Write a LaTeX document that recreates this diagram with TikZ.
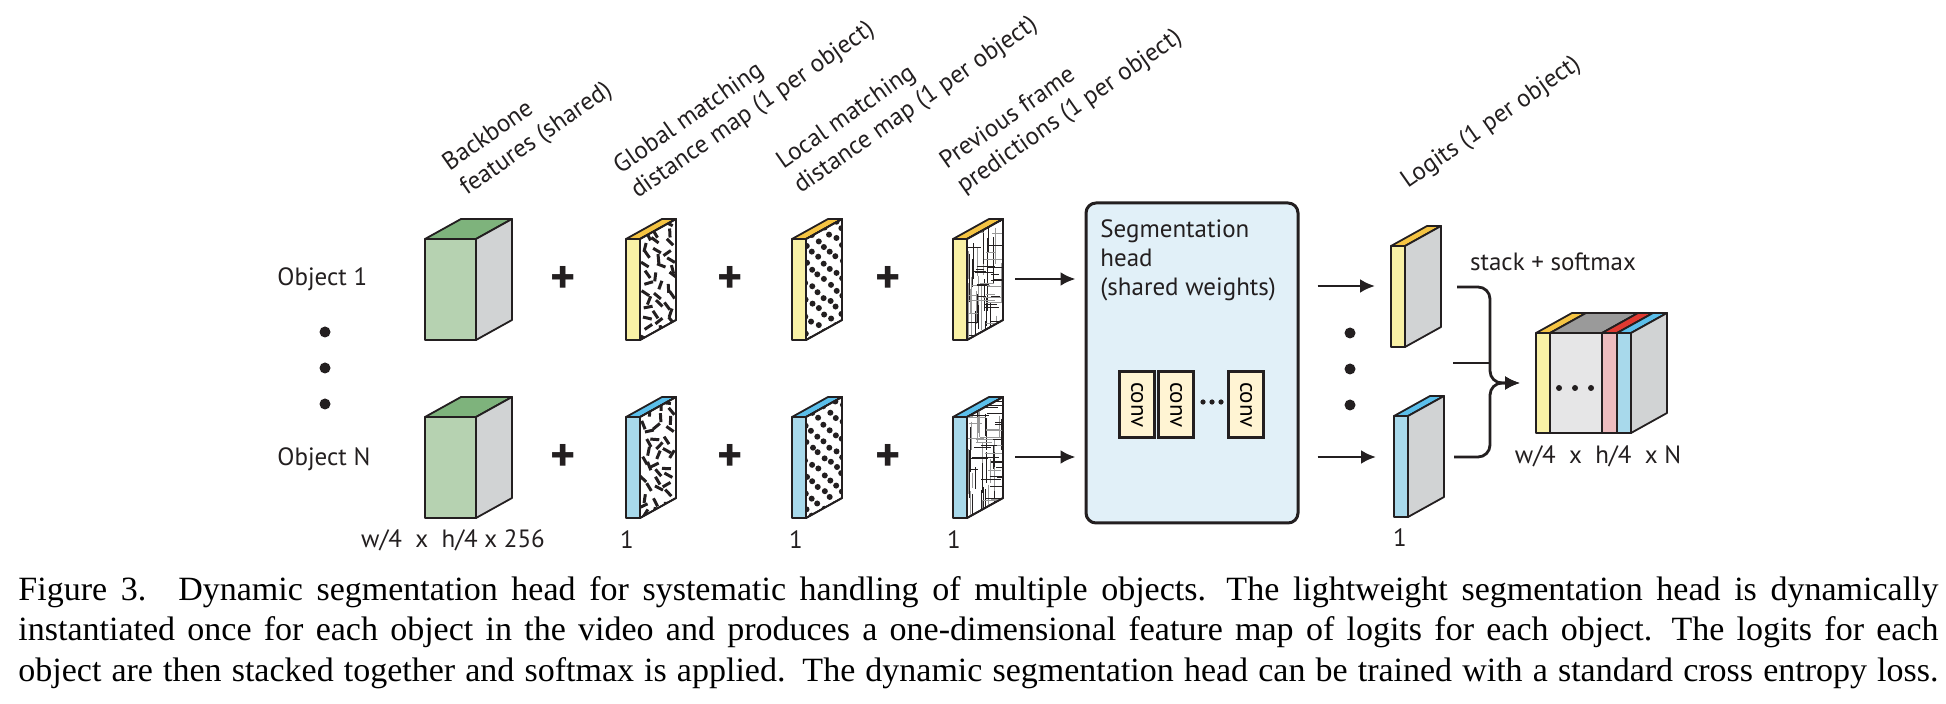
\documentclass[tikz,border=0pt]{standalone}
\usepackage{fontspec}
\setmainfont{Liberation Serif}
\newfontfamily\labelfont{PT Sans}
\usepackage{tikz}
\usetikzlibrary{arrows.meta,calc,positioning}

\definecolor{edgec}{HTML}{231F20}
\definecolor{bbfront}{HTML}{B6D2B1}
\definecolor{bbtop}{HTML}{7EB37C}
\definecolor{sidegray}{HTML}{D1D3D4}
\definecolor{ylwfront}{HTML}{F9F1A6}
\definecolor{ylwtop}{HTML}{F5C443}
\definecolor{bluefront}{HTML}{A8D9EB}
\definecolor{bluetop}{HTML}{5BBFEB}
\definecolor{headfill}{HTML}{E1F0F8}
\definecolor{convfill}{HTML}{FFF4D3}
\definecolor{stackgray}{HTML}{E6E6E7}
\definecolor{stacktop}{HTML}{9A9A9A}
\definecolor{pinkfront}{HTML}{EDBCBF}
\definecolor{redtop}{HTML}{E03A31}

\tikzset{%
	outl/.style     = {draw=edgec, line width=0.9pt, line join=round},
	arrow/.style    = {draw=edgec, line width=1.4pt, -{Latex[length=7.5pt,width=7pt]}},
	lbl/.style      = {font=\labelfont\fontsize{12.5}{15}\selectfont, text=edgec, inner sep=0pt},
	toplbl/.style   = {lbl, rotate=35, anchor=south west, align=left},
	plus/.style     = {font=\labelfont\bfseries\fontsize{24}{24}\selectfont, text=edgec, inner sep=0pt},
	headbox/.style  = {draw=edgec, fill=headfill, line width=1.5pt, rounded corners=5pt, minimum width=106pt, minimum height=160pt},
	convbox/.style  = {draw=edgec, fill=convfill, line width=1.5pt, rotate=-90, minimum width=33pt, minimum height=17.5pt, inner sep=0pt, font=\labelfont\fontsize{11.5}{12}\selectfont},
	pics/box/.style n args={5}{code={
		\filldraw[outl, fill=#3] (0,0) rectangle (#1,#2);
		\filldraw[outl, fill=#4] (0,0) -- (36,-20) -- ({#1+36},-20) -- (#1,0) -- cycle;
		\filldraw[outl, fill=#5] (#1,0) -- ({#1+36},-20) -- ({#1+36},{#2-20}) -- (#1,#2) -- cycle;
	}},
	pics/dashes/.style={code={
		\begin{scope}
			\clip (14,0) -- (50,-20) -- (50,81) -- (14,101) -- cycle;
			\foreach \cu in {0.17,0.5,0.83}
				\foreach \cv in {2,11,...,101} {
					\pgfmathsetmacro\cx{14+36*(\cu+0.1*rand)}
					\pgfmathsetmacro\cy{\cv+2*rand-20*(\cx-14)/36}
					\pgfmathsetmacro\ang{180*rnd}
					\draw[edgec, line width=1.5pt] ({\cx+4.5*cos(\ang)},{\cy+4.5*sin(\ang)}) -- ({\cx-4.5*cos(\ang)},{\cy-4.5*sin(\ang)});
				}
		\end{scope}
		\draw[outl] (14,0) -- (50,-20) -- (50,81) -- (14,101) -- cycle;
	}},
	pics/dots/.style={code={
		\begin{scope}
			\clip (14,0) -- (50,-20) -- (50,81) -- (14,101) -- cycle;
			\foreach \cv [count=\ci] in {0,8.5,...,110} {
				\pgfmathsetmacro\shift{mod(\ci,2)}
				\foreach \cu in {0,0.33,0.67,1} {
					\pgfmathsetmacro\cx{14+36*(\cu+0.165*\shift+0.03*rand)}
					\pgfmathsetmacro\cy{\cv+1.2*rand-20*(\cx-14)/36}
					\fill[edgec] (\cx,\cy) circle[radius=3];
				}
			}
		\end{scope}
		\draw[outl] (14,0) -- (50,-20) -- (50,81) -- (14,101) -- cycle;
	}},
	pics/mesh/.style={code={
		\begin{scope}
			\clip (14,0) -- (50,-20) -- (50,81) -- (14,101) -- cycle;
			\foreach \nn in {1,...,16} {
				\pgfmathsetmacro\lx{15+34*rnd}
				\pgfmathsetmacro\ly{-25+110*rnd}
				\pgfmathsetmacro\lenm{15+35*rnd}
				\draw[black!40, line width=0.45pt] (\lx,\ly) -- (\lx,{\ly+\lenm});
				\pgfmathsetmacro\lx{15+34*rnd}
				\pgfmathsetmacro\ly{-25+110*rnd}
				\draw[edgec, line width=0.45pt] (\lx,\ly) -- (\lx,{\ly+\lenm});
			}
			\foreach \nn in {1,...,24} {
				\pgfmathsetmacro\ly{-20+120*rnd}
				\pgfmathsetmacro\lx{10+30*rnd}
				\pgfmathsetmacro\lenm{8+20*rnd}
				\draw[black!40, line width=0.45pt] (\lx,\ly) -- ({\lx+\lenm},\ly);
				\pgfmathsetmacro\ly{-20+120*rnd}
				\draw[edgec, line width=0.45pt] ({\lx+5},\ly) -- ({\lx+5+\lenm},\ly);
			}
		\end{scope}
		\draw[outl] (14,0) -- (50,-20) -- (50,81) -- (14,101) -- cycle;
	}},
}

\begin{document}
\begin{tikzpicture}[x=0.5pt,y=-0.5pt]
	\path[use as bounding box, fill=white] (0,0) rectangle (1946,704);
	\pgfmathsetseed{11}
	% input rows
	\node[lbl, anchor=west] (obj1) at (277,279) {Object 1};
	\node[lbl, anchor=west] (objN) at (277,459) {Object N};
	\foreach \y in {332,368,404} \fill[edgec] (325,\y) circle[radius=5.5];
	\foreach \rw/\y/\fc/\tc in {1/239/ylwfront/ylwtop, N/417/bluefront/bluetop} {
		\pic at (425,\y) {box={51}{101}{bbfront}{bbtop}{sidegray}};
		\node[plus] (pla\rw) at (563,\y+41) {+};
		\pic at (626,\y) {box={14}{101}{\fc}{\tc}{white}};
		\pic at (626,\y) {dashes};
		\node[plus] (plb\rw) at (730,\y+41) {+};
		\pic at (792,\y) {box={14}{101}{\fc}{\tc}{white}};
		\pic at (792,\y) {dots};
		\node[plus] (plc\rw) at (888,\y+41) {+};
		\pic at (953,\y) {box={14}{101}{\fc}{\tc}{white}};
		\pic at (953,\y) {mesh};
		\coordinate (pv\rw) at (1015,\y+40);
	}
	% labels
	\node[toplbl] (labbb) at (470,201) {Backbone\\features (shared)};
	\node[toplbl] (labgm) at (641,204) {Global matching\\distance map (1 per object)};
	\node[toplbl] (lablm) at (804,199) {Local matching\\distance map (1 per object)};
	\node[toplbl] (labpv) at (967,199) {Previous frame\\predictions (1 per object)};
	\node[toplbl] (lablg) at (1411,194) {Logits (1 per object)};
	\node[lbl] (dimbb) at (453,540) {w/4\ \ x\ \ h/4 x 256};
	\foreach \n/\x in {gm/627,lm/796,pv/954} \node[lbl] (dim\n) at (\x,540) {1};
	% segmentation head
	\node[headbox] (head) at (1192,363) {};
	\node[lbl, anchor=north west, align=left, font=\labelfont\fontsize{12.5}{14.5}\selectfont] (headtxt) at (1100,219) {Segmentation\\head\\(shared weights)};
	\foreach \n/\x in {1/1137,2/1176,3/1246} \node[convbox] (conv\n) at (\x,405) {conv};
	\foreach \x in {1203,1212,1221} \fill[edgec] (\x,402) circle[radius=2.6];
	\draw[arrow, shorten >=4.5pt] (pv1) -- (pv1 -| head.west);
	\draw[arrow, shorten >=4.5pt] (pvN) -- (pvN -| head.west);
	% logits
	\pic at (1391,246) {box={14}{101}{ylwfront}{ylwtop}{sidegray}};
	\pic at (1394,416) {box={14}{101}{bluefront}{bluetop}{sidegray}};
	\coordinate (lg1) at (1391,286);
	\coordinate (lgN) at (1394,457);
	\draw[arrow, shorten <=9pt, shorten >=8pt] (head.east |- lg1) -- (lg1);
	\draw[arrow, shorten <=9pt, shorten >=9pt] (head.east |- lgN) -- (lgN);
	\foreach \y in {333,369,405} \fill[edgec] (1350,\y) circle[radius=5.5];
	\node[lbl] (dimlg) at (1400,538) {1};
	% stacked output
	\foreach \xa/\xb/\fc/\tc in {1536/1550/ylwfront/ylwtop, 1550/1602/stackgray/stacktop, 1602/1617/pinkfront/redtop, 1617/1631/bluefront/bluetop} {
		\filldraw[outl, fill=\fc] (\xa,333) rectangle (\xb,433);
		\filldraw[outl, fill=\tc] (\xa,333) -- (\xa+36,313) -- (\xb+36,313) -- (\xb,333) -- cycle;
	}
	\filldraw[outl, fill=sidegray] (1631,333) -- (1667,313) -- (1667,413) -- (1631,433) -- cycle;
	\foreach \x in {1559,1575,1591} \fill[edgec] (\x,388) circle[radius=3];
	\coordinate (stk) at (1536,383);
	\coordinate (br1) at (1457,287);
	\coordinate (br2) at (1453,363);
	\coordinate (br3) at (1454,457);
	\coordinate (brj) at (1490,383);
	\draw[arrow, rounded corners=6pt, shorten >=8pt] (br1) -- (br1 -| brj) -- (brj) -- (stk);
	\draw[arrow, rounded corners=6pt, shorten >=8pt] (br3) -- (br3 -| brj) -- (brj) -- (stk);
	\draw[draw=edgec, line width=1.4pt] (br2) -- (br2 -| brj);
	\node[lbl] (stsm) at (1553,262) {stack + softmax};
	\node[lbl] (dimst) at (1598,456) {w/4\ \ x\ \ h/4\ \ x N};
	% caption
	\node[anchor=north west, inner sep=0pt, text width=960pt, font=\fontsize{17}{20.25}\selectfont] (cap) at (18,576) {%
		\spaceskip=0.25em plus 1fil minus 0.1em\relax
		\xspaceskip=0.45em plus 1fil minus 0.1em\relax
		\makebox[960pt][s]{Figure 3.\hspace{16pt}Dynamic segmentation head for systematic handling of multiple objects. The lightweight segmentation head is dynamically}\\
		\makebox[960pt][s]{instantiated once for each object in the video and produces a one-dimensional feature map of logits for each object. The logits for each}\\
		\makebox[960pt][s]{object are then stacked together and softmax is applied. The dynamic segmentation head can be trained with a standard cross entropy loss.}};
\end{tikzpicture}
\end{document}
